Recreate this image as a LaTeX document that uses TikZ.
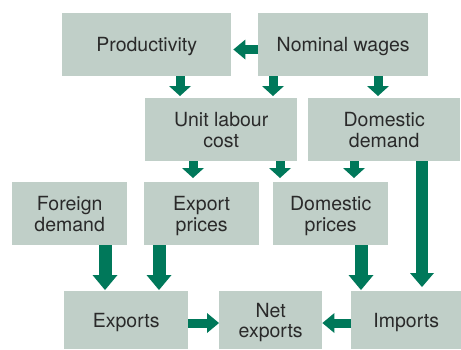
\documentclass[tikz,border=0pt]{standalone}
\usepackage{fontspec}
\setmainfont{TeX Gyre Heros}
\usetikzlibrary{arrows.meta}
\definecolor{boxc}{HTML}{C0CFC8}
\definecolor{arrc}{HTML}{00785A}
\definecolor{txt}{HTML}{2A2A2A}
\begin{document}
\begin{tikzpicture}[x=1pt,y=-1pt,
  box/.style={fill=boxc, draw=none, inner sep=0pt, align=center, anchor=north west,
    font=\fontsize{19.5}{20.5}\selectfont, text=txt, text depth=-1pt},
  sarr/.style={draw=arrc, line width=9pt, line cap=butt,
    -{Triangle[width=22pt,length=10pt,line width=0pt]}},
  harr/.style={draw=arrc, line width=9pt, line cap=butt,
    -{Triangle[width=20pt,length=12pt,line width=0pt]}},
  marr/.style={draw=arrc, line width=12pt, line cap=butt,
    -{Triangle[width=24pt,length=14pt,line width=0pt]}},
  barr/.style={draw=arrc, line width=13pt, line cap=butt,
    -{Triangle[width=25pt,length=15pt,line width=0pt]}}]
\useasboundingbox (0,0) rectangle (461,349);
% boxes
\node[box, minimum width=169pt, minimum height=63pt] (prod) at (62,13) {Productivity};
\node[box, minimum width=170pt, minimum height=63pt] (nw) at (258,13) {Nominal wages};
\node[box, minimum width=152pt, minimum height=63pt] (ulc) at (145,98) {Unit labour\\cost};
\node[box, minimum width=152pt, minimum height=63pt] (dd) at (308,98) {Domestic\\demand};
\node[box, minimum width=115pt, minimum height=63pt] (fd) at (12,182) {Foreign\\demand};
\node[box, minimum width=115pt, minimum height=63pt] (ep) at (144,182) {Export\\prices};
\node[box, minimum width=115pt, minimum height=63pt] (dp) at (273,182) {Domestic\\prices};
\node[box, minimum width=124pt, minimum height=58pt] (ex) at (64,291) {Exports};
\node[box, minimum width=103pt, minimum height=58pt] (net) at (219,291) {Net\\exports};
\node[box, minimum width=110pt, minimum height=58pt] (im) at (351,291) {Imports};
% arrows
\draw[harr, shorten >=2pt] (nw.west |- 0,49.5) -- (prod.east |- 0,49.5);
\draw[sarr, shorten >=2pt] (180,0 |- prod.south) -- (180,0 |- ulc.north);
\draw[sarr, shorten >=2pt] (273,0 |- nw.south) -- (273,0 |- ulc.north);
\draw[sarr, shorten >=2pt] (378,0 |- nw.south) -- (378,0 |- dd.north);
\draw[sarr, shorten >=4pt] (193,0 |- ulc.south) -- (193,0 |- ep.north);
\draw[sarr, shorten >=4pt] (280,0 |- ulc.south) -- (280,0 |- dp.north);
\draw[sarr, shorten >=4pt] (354,0 |- dd.south) -- (354,0 |- dp.north);
\draw[marr, shorten >=4pt] (422,0 |- dd.south) -- (422,0 |- im.north);
\draw[barr, shorten >=1pt] (105,0 |- fd.south) -- (105,0 |- ex.north);
\draw[barr, shorten >=1pt] (159,0 |- ep.south) -- (159,0 |- ex.north);
\draw[barr, shorten >=1pt] (361,0 |- dp.south) -- (361,0 |- im.north);
\draw[harr] (ex.east |- 0,323) -- (net.west |- 0,323);
\draw[harr] (im.west |- 0,323) -- (net.east |- 0,323);
\end{tikzpicture}
\end{document}
